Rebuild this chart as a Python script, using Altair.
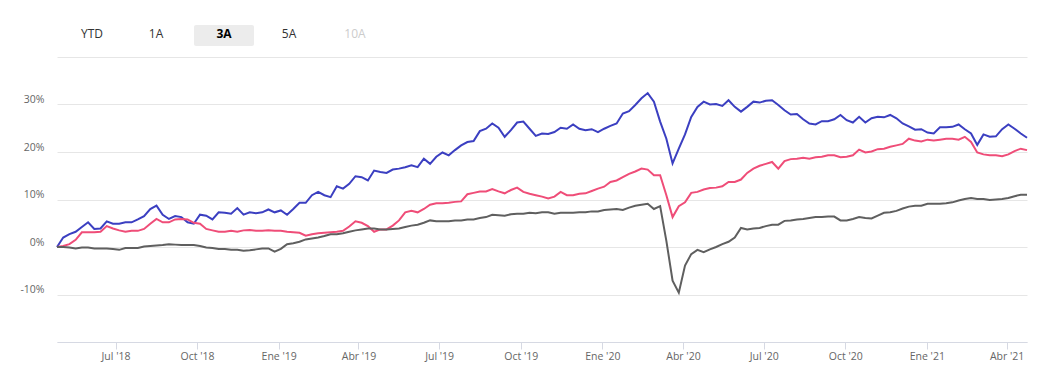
import altair as alt
import pandas as pd

# ---- data (percent return, weekly samples) ----
start_date = "2018-04-26"
end_date = "2021-04-24"
n_points = 157

series_names = ["Fondo", "Categoría", "Índice"]
series_colors = ["#3b3fc1", "#ef4d78", "#5f5f5f"]

blue = [
    0.0, 2.0, 2.7, 3.2, 4.2, 5.2, 3.8, 3.9, 5.4, 4.9,
    4.9, 5.2, 5.2, 5.8, 6.5, 8.0, 8.7, 6.8, 5.9, 6.5,
    6.3, 5.2, 4.9, 6.8, 6.6, 5.8, 7.3, 7.2, 7.0, 8.2,
    6.8, 7.3, 7.1, 7.3, 7.9, 7.3, 7.7, 6.8, 8.0, 9.3,
    9.3, 10.9, 11.6, 10.9, 10.5, 12.8, 12.3, 13.3, 14.9, 14.7,
    14.0, 16.1, 15.8, 15.6, 16.3, 16.5, 16.8, 17.2, 16.8, 18.6,
    17.5, 19.0, 19.9, 19.3, 20.4, 21.4, 22.1, 22.3, 24.4, 24.9,
    26.0, 25.1, 23.2, 24.6, 26.2, 26.4, 24.9, 23.4, 23.9, 23.8,
    24.2, 25.1, 24.9, 25.8, 24.9, 24.6, 24.8, 24.2, 24.9, 25.5,
    26.0, 28.1, 28.6, 29.9, 31.3, 32.4, 30.6, 26.4, 22.8, 17.6,
    20.7, 23.7, 27.4, 29.5, 30.6, 30.0, 30.1, 29.7, 30.9, 29.5,
    28.5, 29.5, 30.6, 30.4, 30.8, 30.9, 29.9, 28.8, 27.9, 28.0,
    26.9, 26.0, 25.8, 26.5, 26.5, 26.9, 27.8, 26.7, 26.2, 27.4,
    26.2, 27.1, 27.4, 27.3, 27.8, 27.1, 26.0, 25.4, 24.7, 24.8,
    24.1, 23.9, 25.2, 25.2, 25.3, 25.8, 24.8, 23.9, 21.5, 23.7,
    23.2, 23.3, 24.8, 25.8, 24.9, 23.9, 23.0,
]

pink = [
    0.0, 0.2, 0.6, 1.5, 3.1, 3.1, 3.1, 3.2, 4.4, 3.9,
    3.5, 3.2, 3.4, 3.4, 3.8, 4.9, 5.9, 5.2, 5.2, 5.8,
    5.9, 5.8, 5.1, 4.9, 3.8, 3.5, 3.2, 3.2, 3.4, 3.2,
    3.5, 3.6, 3.4, 3.4, 3.5, 3.4, 3.4, 3.2, 3.1, 3.0,
    2.4, 2.7, 2.9, 3.0, 3.1, 3.2, 3.4, 4.3, 5.4, 5.1,
    4.4, 3.2, 3.7, 3.7, 4.5, 5.6, 7.3, 7.6, 7.3, 8.0,
    8.9, 9.2, 9.2, 9.3, 9.5, 9.6, 11.1, 11.4, 11.7, 11.7,
    12.2, 11.7, 11.3, 12.0, 12.5, 11.6, 11.2, 10.9, 10.6, 10.2,
    10.6, 11.6, 10.9, 10.9, 11.2, 11.3, 11.8, 12.3, 12.7, 13.7,
    14.0, 14.7, 15.4, 15.9, 16.5, 16.3, 15.1, 15.1, 10.9, 6.3,
    8.6, 9.4, 11.4, 11.6, 12.1, 12.4, 12.5, 12.8, 13.7, 13.7,
    14.2, 15.6, 16.5, 17.1, 17.5, 17.9, 16.5, 18.1, 18.5, 18.6,
    18.8, 18.6, 18.9, 19.0, 19.3, 19.3, 18.9, 19.0, 19.3, 20.5,
    19.9, 20.1, 20.6, 20.7, 21.1, 21.4, 21.7, 22.8, 22.4, 22.2,
    22.6, 22.4, 22.6, 22.8, 22.8, 22.6, 23.2, 22.1, 19.9, 19.5,
    19.3, 19.3, 19.1, 19.5, 20.2, 20.7, 20.4,
]

gray = [
    0.0, 0.0, -0.1, -0.3, -0.1, -0.1, -0.3, -0.3, -0.3, -0.4,
    -0.6, -0.2, -0.2, -0.2, 0.1, 0.2, 0.3, 0.4, 0.6, 0.5,
    0.4, 0.4, 0.4, 0.2, -0.1, -0.2, -0.4, -0.4, -0.6, -0.6,
    -0.8, -0.7, -0.5, -0.3, -0.3, -1.0, -0.4, 0.6, 0.8, 1.1,
    1.6, 1.8, 2.0, 2.3, 2.7, 2.7, 2.9, 3.2, 3.5, 3.7,
    3.9, 3.9, 3.7, 3.7, 3.8, 3.9, 4.2, 4.5, 4.7, 5.1,
    5.6, 5.4, 5.4, 5.4, 5.6, 5.6, 5.8, 5.8, 6.1, 6.3,
    6.8, 6.7, 6.6, 6.9, 7.0, 7.0, 7.2, 7.1, 7.3, 7.3,
    7.0, 7.2, 7.2, 7.2, 7.3, 7.3, 7.5, 7.5, 7.8, 7.9,
    8.0, 7.8, 8.3, 8.7, 8.9, 9.1, 8.0, 8.6, 1.3, -7.1,
    -9.6, -3.9, -1.5, -0.6, -1.1, -0.5, 0.0, 0.6, 1.1, 2.0,
    4.0, 3.7, 3.9, 4.0, 4.4, 4.7, 4.7, 5.5, 5.6, 5.8,
    5.9, 6.1, 6.3, 6.3, 6.4, 6.4, 5.6, 5.6, 5.9, 6.3,
    6.1, 6.0, 6.6, 7.2, 7.3, 7.6, 8.1, 8.5, 8.7, 8.7,
    9.1, 9.1, 9.1, 9.2, 9.4, 9.8, 10.1, 10.3, 10.1, 10.1,
    9.9, 10.0, 10.1, 10.3, 10.7, 11.0, 11.0,
]

x_tick_dates = ["2018-07-01", "2018-10-01", "2019-01-01", "2019-04-01",
                "2019-07-01", "2019-10-01", "2020-01-01", "2020-04-01",
                "2020-07-01", "2020-10-01", "2021-01-01", "2021-04-01"]
month_names = {0: "Ene", 3: "Abr", 6: "Jul", 9: "Oct"}
y_ticks = [-20, -10, 0, 10, 20, 30, 40]
buttons = ["YTD", "1A", "3A", "5A", "10A"]

# ---- build table ----
dates = pd.date_range(start=start_date, end=end_date, periods=n_points)
ms = [int(d.value // 1_000_000) for d in dates]
rows = []
for name, vals in zip(series_names, [blue, pink, gray]):
    for t, v in zip(ms, vals):
        rows.append({"t": t, "v": v, "s": name})
df = pd.DataFrame(rows)

tick_ms = [int(pd.Timestamp(d).value // 1_000_000) for d in x_tick_dates]
m_expr = "utcmonth(datum.value)"
month_expr = "".join(f"{m_expr}=={k}?'{v}':" for k, v in month_names.items()) + "''"
x_label_expr = f"({month_expr}) + \" '\" + utcFormat(datum.value, '%y')"

FONT = "Open Sans"

lines = alt.Chart(df).mark_line(strokeWidth=2, interpolate="linear").encode(
    x=alt.X("t:T",
            scale=alt.Scale(type="utc", nice=False),
            axis=alt.Axis(values=tick_ms, labelExpr=x_label_expr, title=None,
                          grid=False, domainColor="#d6d9e3", tickColor="#d6d9e3",
                          tickSize=7, labelPadding=2, labelColor="#666666",
                          labelFontSize=10.5, labelFont=FONT, labelFlush=False,
                          labelOverlap=False)),
    y=alt.Y("v:Q",
            scale=alt.Scale(domain=[-20, 40], nice=False, zero=False),
            axis=alt.Axis(values=y_ticks,
                          labelExpr="datum.value <= -20 || datum.value >= 40 ? '' : datum.value + '%'",
                          title=None, domain=False, ticks=False, gridColor="#e6e6e6",
                          labelPadding=13, labelColor="#666666", labelFontSize=10.5,
                          labelFont=FONT, labelBaseline="alphabetic", labelOffset=-2)),
    color=alt.Color("s:N", scale=alt.Scale(domain=series_names, range=series_colors),
                    legend=None),
)

# ---- range selector buttons ----
btn_x = [35, 99, 167, 232, 298]
btn_color = ["#333333", "#333333", "#000000", "#333333", "#cccccc"]
btn_weight = ["normal", "normal", "bold", "normal", "normal"]

sel_box = alt.Chart(pd.DataFrame({"b": ["3A"]})).mark_rect(
    fill="#ececec", cornerRadius=2
).encode(x=alt.value(137), x2=alt.value(197), y=alt.value(-32), y2=alt.value(-11))

btn_layers = []
for label, bx, bc, bw in zip(buttons, btn_x, btn_color, btn_weight):
    btn_layers.append(
        alt.Chart(pd.DataFrame({"b": [label]})).mark_text(
            font=FONT, fontSize=12, color=bc, fontWeight=bw,
            align="center", baseline="middle"
        ).encode(text="b:N", x=alt.value(bx), y=alt.value(-23))
    )

chart = alt.layer(lines, sel_box, *btn_layers).properties(
    width=970, height=285,
    padding={"left": 49, "top": 49, "right": 27, "bottom": 30},
    autosize=alt.AutoSizeParams(type="none"),
    background="white",
).configure_view(stroke=None)

chart.save("out.html", embed_options={"renderer": "svg", "actions": False})
